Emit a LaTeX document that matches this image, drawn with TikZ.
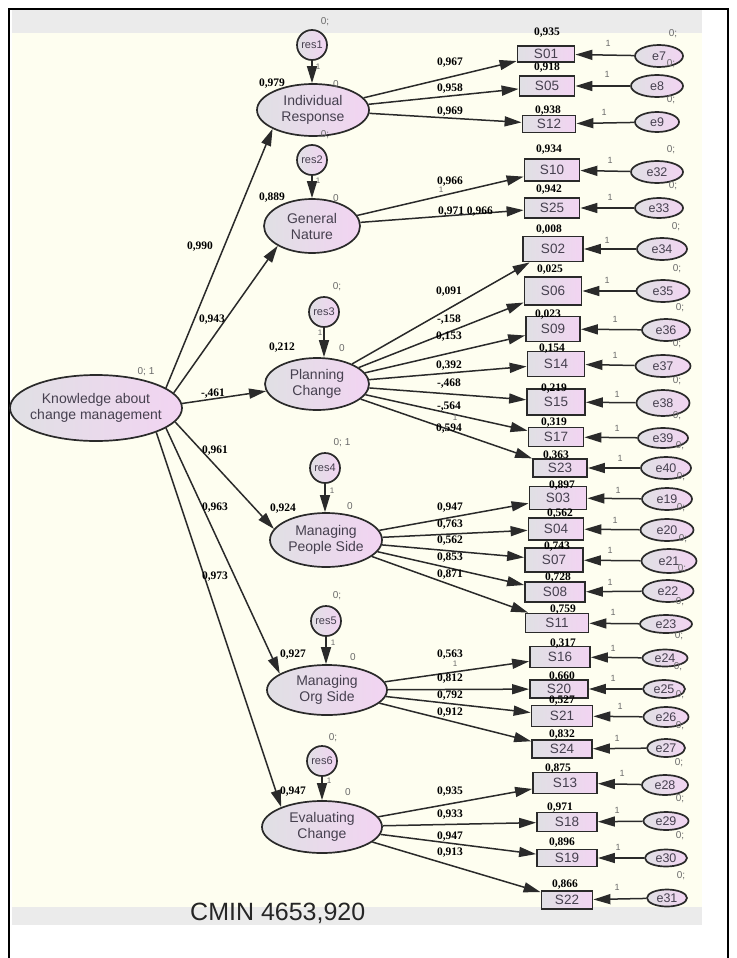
\documentclass[tikz,border=0pt]{standalone}
\usepackage{fontspec}
\setmainfont{Liberation Sans}
\newfontfamily\numfam{Liberation Serif}
\usetikzlibrary{shapes.geometric,arrows.meta}

\definecolor{cream}{HTML}{FEFEF0}
\definecolor{band}{HTML}{EBEBEB}
\definecolor{edge}{HTML}{2A2A2A}
\definecolor{shL}{HTML}{E0E0E4}
\definecolor{shR}{HTML}{F2D4F2}
\definecolor{ink}{HTML}{46404F}
\definecolor{faint}{HTML}{6A6A6A}

\newcommand\fLat{\fontsize{14}{16}\selectfont}
\newcommand\fObs{\fontsize{13.5}{14}\selectfont}
\newcommand\fErr{\fontsize{12.5}{13}\selectfont}
\newcommand\fRes{\fontsize{11}{12}\selectfont}
\newcommand\fNum{\numfam\bfseries\fontsize{11.5}{12}\selectfont}
\newcommand\fMinor{\fontsize{10}{11}\selectfont}
\newcommand\fOne{\fontsize{9}{10}\selectfont}
\newcommand\fTick{\fontsize{8}{9}\selectfont}
\newcommand\fCmin{\fontsize{25}{28}\selectfont}

\begin{document}
\begin{tikzpicture}[x=1pt,y=-1pt,
  latent/.style={ellipse, draw=edge, line width=1.7pt, left color=shL, right color=shR, inner sep=0pt},
  latname/.style={align=center, font=\fLat, text=ink, inner sep=0pt},
  manifest/.style={rectangle, draw=edge, line width=1.8pt, left color=shL, right color=shR, inner sep=0pt, font=\fObs, text=ink},
  errnode/.style={ellipse, draw=edge, line width=1.7pt, left color=shL, right color=shR, inner sep=0pt, font=\fErr, text=ink},
  resid/.style={circle, draw=edge, line width=1.7pt, left color=shL, right color=shR, inner sep=0pt, minimum size=30pt, font=\fRes, text=ink},
  coef/.style={font=\fNum, inner sep=0pt},
  minor/.style={font=\fMinor, text=faint, inner sep=0pt},
  onelab/.style={font=\fOne, text=faint, inner sep=0pt},
  ticklab/.style={font=\fTick, text=faint, inner sep=0pt},
  link/.style={draw=edge, line width=1.5pt, -{Triangle[length=17pt,width=10pt]}},
]
\useasboundingbox (0,0) rectangle (736,958);

% canvas and frame
\fill[white] (0,0) rectangle (736,958);
\fill[band] (12,10) rectangle (702,33);
\fill[cream] (12,33) rectangle (702,907);
\fill[band] (12,907) rectangle (702,925);
\draw[black, line width=2pt] (9,958) -- (9,9) -- (728,9) -- (728,958);

% second-order factor
\node[latent, minimum width=172pt, minimum height=66pt] (K) at (96,408) {};
\node[latname] (Kt) at (K) {Knowledge about\\change management};
\node[minor] (Kvar) at (146,372) {0; 1};

% first-order factors
\node[latent, minimum width=112pt, minimum height=52pt] (IR) at (313,110) {};
\node[latname] (IRt) at (IR) {Individual\\Response};
\node[latent, minimum width=96pt, minimum height=54pt] (GN) at (312,226) {};
\node[latname] (GNt) at (GN) {General\\Nature};
\node[latent, minimum width=104pt, minimum height=52pt] (PC) at (317,384) {};
\node[latname] (PCt) at (PC) {Planning\\Change};
\node[latent, minimum width=112pt, minimum height=54pt] (MPS) at (326,540) {};
\node[latname] (MPSt) at (MPS) {Managing\\People Side};
\node[latent, minimum width=120pt, minimum height=50pt] (MOS) at (327,690) {};
\node[latname] (MOSt) at (MOS) {Managing\\Org Side};
\node[latent, minimum width=120pt, minimum height=52pt] (EC) at (322,827) {};
\node[latname] (ECt) at (EC) {Evaluating\\Change};

% disturbances
\foreach \rn/\rx/\ry/\lat/\mx/\my/\mt/\ox/\oy in {
  res1/312/45/IR/325/22/0;/318/67,
  res2/312/160/GN/325/135/0;/318/181,
  res3/324/312/PC/337/287/0;/320/333,
  res4/325/468/MPS/342/443/0; 1/332/491,
  res5/326/621/MOS/337/596/0;/333/643,
  res6/322/761/EC/333/738/0;/329/781}{
  \node[resid] (\rn) at (\rx,\ry) {\rn};
  \node[minor] (\rn-var) at (\mx,\my) {\mt};
  \node[ticklab] (\rn-one) at (\ox,\oy) {1};
  \draw[link] (\rn) -- (\rn |- \lat.north);
}

% squared multiple correlations and intercepts of first-order factors
\node[coef] (IR-r2) at (272,84) {0,979};   \node[minor] (IR-mean) at (336,84) {0};
\node[coef] (GN-r2) at (272,198) {0,889};  \node[minor] (GN-mean) at (336,198) {0};
\node[coef] (PC-r2) at (282,348) {0,212};  \node[minor] (PC-mean) at (342,348) {0};
\node[coef] (MPS-r2) at (283,509) {0,924}; \node[minor] (MPS-mean) at (350,506) {0};
\node[coef] (MOS-r2) at (293,655) {0,927}; \node[minor] (MOS-mean) at (353,657) {0};
\node[coef] (EC-r2) at (293,792) {0,947};  \node[minor] (EC-mean) at (348,792) {0};

% second-order loadings
\draw[link] (K.16) -- (IR.205);
\draw[link] (K.11) -- (GN.210);
\draw[link] (K.3) -- (PC.188);
\draw[link] (K.-10) -- (MPS.168);
\draw[link] (K.-16) -- (MOS.161);
\draw[link] (K.-22) -- (EC.154);
\node[coef] (gIR) at (200,247) {0,990};
\node[coef] (gGN) at (212,320) {0,943};
\node[coef] (gPC) at (213,394) {-,461};
\node[coef] (gMPS) at (215,451) {0,961};
\node[coef] (gMOS) at (215,508) {0,963};
\node[coef] (gEC) at (215,577) {0,973};

% indicators with their error terms
\foreach \bn/\bx/\by/\bw/\bh/\rq/\qx/\qy/\en/\ecx/\ecy/\ew/\eh/\ox/\oy in {
  S01/546/54/57/16/0{,}935/547/33/e7/659/56/48/22/608/43,
  S05/547/86/55/20/0{,}918/547/68/e8/657/86/52/22/607/74,
  S12/549/124/53/17/0{,}938/548/111/e9/657/122/44/20/604/112,
  S10/552/170/55/22/0{,}934/549/150/e32/657/172/52/22/610/160,
  S25/552/208/55/20/0{,}942/549/190/e33/659/208/48/20/610/197,
  S02/553/249/60/25/0{,}008/549/230/e34/662/249/50/22/607/240,
  S06/553/291/57/28/0{,}025/550/270/e35/663/291/53/22/607/280,
  S09/553/329/54/25/0{,}023/548/315/e36/666/330/48/22/615/319,
  S14/556/364/57/25/0{,}154/552/349/e37/663/366/55/22/615/355,
  S15/556/402/58/26/0{,}219/554/389/e38/663/403/53/26/617/394,
  S17/556/437/55/19/0{,}319/554/423/e39/663/438/50/20/617/428,
  S23/560/468/54/18/0{,}363/556/456/e40/666/468/50/22/620/458,
  S03/558/498/57/23/0{,}897/562/486/e19/667/499/50/22/618/490,
  S04/556/529/55/22/0{,}562/560/514/e20/667/530/53/22/615/520,
  S07/554/560/58/24/0{,}743/557/547/e21/669/561/55/24/610/550,
  S08/555/592/60/20/0{,}728/558/578/e22/668/591/51/22/610/582,
  S11/557/623/63/19/0{,}759/563/610/e23/666/624/52/18/613/612,
  S16/560/657/60/21/0{,}317/563/644/e24/665/658/45/17/613/648,
  S20/559/689/58/18/0{,}660/562/677/e25/664/689/42/18/613/678,
  S21/562/716/61/21/0{,}527/562/701/e26/666/717/45/20/620/706,
  S24/562/749/60/18/0{,}832/562/735/e27/666/748/38/18/617/738,
  S13/565/783/64/21/0{,}875/558/769/e28/665/785/46/20/622/773,
  S18/567/822/60/19/0{,}971/560/808/e29/666/821/45/18/617/810,
  S19/567/858/60/17/0{,}896/562/843/e30/666/858/42/17/618/847,
  S22/567/900/51/18/0{,}866/565/885/e31/667/898/40/17/617/887}{
  \node[manifest, minimum width=\bw pt, minimum height=\bh pt] (\bn) at (\bx,\by) {\bn};
  \node[coef] (\bn-r2) at (\qx,\qy) {\rq};
  \node[errnode, minimum width=\ew pt, minimum height=\eh pt] (\en) at (\ecx,\ecy) {\en};
  \node[minor] (\en-mean) at ([xshift=14pt,yshift=22pt]\en.center) {0;};
  \node[onelab] (\en-one) at (\ox,\oy) {1};
  \draw[link] (\en) -- (\bn);
}

% first-order loadings
\foreach \t in {S01,S05,S12} \draw[link] (IR) -- (\t);
\foreach \t in {S10,S25} \draw[link] (GN) -- (\t);
\foreach \t in {S02,S06,S09,S14,S15,S17,S23} \draw[link] (PC) -- (\t);
\foreach \t in {S03,S04,S07,S08,S11} \draw[link] (MPS) -- (\t);
\foreach \t in {S16,S20,S21,S24} \draw[link] (MOS) -- (\t);
\foreach \t in {S13,S18,S19,S22} \draw[link] (EC) -- (\t);

\node[coef] (l01) at (450,63) {0,967};
\node[coef] (l05) at (450,89) {0,958};
\node[coef] (l12) at (450,112) {0,969};
\node[coef] (l10) at (450,182) {0,966};
\node[ticklab] (l10m) at (441,190) {1};
\node[coef, anchor=west] (l25) at (438,212) {0,971 0,966};
\node[coef] (l02) at (449,292) {0,091};
\node[coef] (l06) at (449,320) {-,158};
\node[coef] (l09) at (449,337) {0,153};
\node[coef] (l14) at (449,366) {0,392};
\node[coef] (l15) at (449,384) {-,468};
\node[coef] (l17) at (449,407) {-,564};
\node[ticklab] (l17m) at (455,418) {1};
\node[coef] (l23) at (449,429) {0,594};
\node[coef] (l03) at (450,508) {0,947};
\node[coef] (l04) at (450,525) {0,763};
\node[coef] (l07) at (450,541) {0,562};
\node[coef] (l08) at (450,558) {0,853};
\node[coef] (l11) at (450,575) {0,871};
\node[coef] (l16) at (450,655) {0,563};
\node[ticklab] (l16m) at (455,664) {1};
\node[coef] (l20) at (450,679) {0,812};
\node[coef] (l21) at (450,696) {0,792};
\node[coef] (l24) at (450,713) {0,912};
\node[coef] (l13) at (450,792) {0,935};
\node[coef] (l18) at (450,815) {0,933};
\node[coef] (l19) at (450,837) {0,947};
\node[coef] (l22) at (450,853) {0,913};

% fit statistic
\node[anchor=base west, font=\fCmin, text=black!85, inner sep=0pt] (cmin) at (190,920) {CMIN 4653,920};
\end{tikzpicture}
\end{document}
